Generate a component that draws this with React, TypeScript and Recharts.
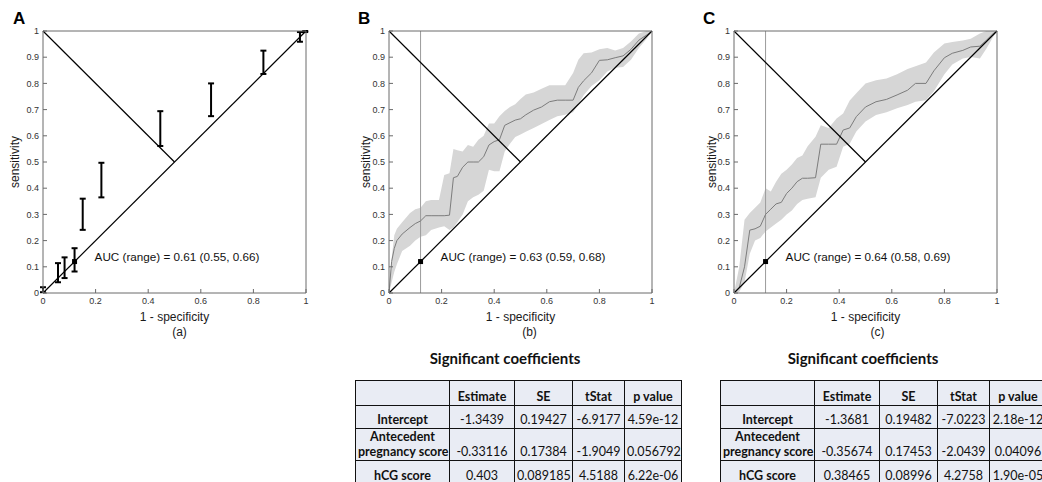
import React from 'react';
import {
  ComposedChart, XAxis, YAxis, Area, Line, Scatter, ErrorBar, ReferenceLine, ReferenceDot,
} from 'recharts';

const xTicks = [0, 0.2, 0.4, 0.6, 0.8, 1];
const yTicks = [0, 0.1, 0.2, 0.3, 0.4, 0.5, 0.6, 0.7, 0.8, 0.9, 1];

// Panel A: error bars (x, lower, upper)
const aX = [0, 0.057, 0.082, 0.12, 0.151, 0.222, 0.446, 0.639, 0.838, 0.977, 0.997];
const aLow = [0.003, 0.041, 0.057, 0.082, 0.241, 0.365, 0.561, 0.675, 0.836, 0.959, 0.996];
const aHigh = [0.022, 0.114, 0.136, 0.171, 0.36, 0.497, 0.694, 0.8, 0.925, 0.996, 1.0];

// Panel B: mean ROC and band
const bX = [0, 0.01, 0.02, 0.03, 0.05, 0.08, 0.1, 0.12, 0.14, 0.16, 0.19, 0.21, 0.23, 0.245, 0.26, 0.28, 0.3, 0.32, 0.34, 0.36, 0.38, 0.4, 0.42, 0.44, 0.46, 0.48, 0.5, 0.52, 0.55, 0.58, 0.61, 0.64, 0.67, 0.7, 0.72, 0.74, 0.77, 0.8, 0.83, 0.86, 0.89, 0.92, 0.95, 0.98, 1.0];
const bLow = [0, 0.04, 0.08, 0.11, 0.16, 0.18, 0.2, 0.215, 0.22, 0.24, 0.25, 0.255, 0.24, 0.25, 0.27, 0.3, 0.35, 0.365, 0.375, 0.39, 0.47, 0.465, 0.465, 0.54, 0.57, 0.595, 0.605, 0.615, 0.63, 0.645, 0.66, 0.675, 0.68, 0.69, 0.72, 0.755, 0.79, 0.812, 0.845, 0.86, 0.863, 0.89, 0.935, 0.97, 1];
const bMean = [0, 0.12, 0.17, 0.2, 0.225, 0.25, 0.265, 0.275, 0.295, 0.295, 0.295, 0.295, 0.297, 0.44, 0.445, 0.48, 0.5, 0.5, 0.5, 0.52, 0.565, 0.578, 0.585, 0.64, 0.65, 0.66, 0.665, 0.68, 0.698, 0.71, 0.73, 0.736, 0.736, 0.736, 0.785, 0.81, 0.84, 0.888, 0.89, 0.898, 0.905, 0.93, 0.965, 0.985, 1];
const bHigh = [0.02, 0.13, 0.22, 0.245, 0.27, 0.305, 0.32, 0.325, 0.35, 0.355, 0.355, 0.45, 0.457, 0.55, 0.545, 0.54, 0.565, 0.558, 0.585, 0.6, 0.647, 0.647, 0.675, 0.695, 0.71, 0.72, 0.74, 0.758, 0.765, 0.78, 0.793, 0.793, 0.793, 0.84, 0.89, 0.915, 0.918, 0.93, 0.935, 0.926, 0.935, 0.96, 0.99, 1.0, 1];

// Panel C: mean ROC and band
const cX = [0, 0.02, 0.04, 0.06, 0.08, 0.1, 0.12, 0.14, 0.16, 0.18, 0.2, 0.22, 0.24, 0.26, 0.28, 0.31, 0.33, 0.36, 0.39, 0.415, 0.44, 0.465, 0.5, 0.54, 0.58, 0.62, 0.66, 0.69, 0.73, 0.76, 0.8, 0.83, 0.87, 0.9, 0.935, 0.96, 0.985, 1];
const cLow = [0, 0.005, 0.04, 0.15, 0.2, 0.21, 0.235, 0.25, 0.265, 0.28, 0.3, 0.315, 0.34, 0.355, 0.36, 0.365, 0.44, 0.47, 0.482, 0.558, 0.57, 0.616, 0.655, 0.679, 0.69, 0.705, 0.718, 0.73, 0.736, 0.77, 0.835, 0.872, 0.895, 0.901, 0.895, 0.933, 0.977, 1];
const cMean = [0, 0.02, 0.1, 0.24, 0.245, 0.255, 0.3, 0.32, 0.34, 0.346, 0.38, 0.4, 0.425, 0.438, 0.438, 0.44, 0.568, 0.568, 0.568, 0.622, 0.63, 0.673, 0.71, 0.73, 0.739, 0.756, 0.774, 0.8, 0.8, 0.848, 0.898, 0.915, 0.926, 0.939, 0.942, 0.965, 0.99, 1];
const cHigh = [0, 0.1, 0.28, 0.305, 0.325, 0.345, 0.4, 0.387, 0.425, 0.455, 0.47, 0.49, 0.515, 0.525, 0.56, 0.596, 0.64, 0.63, 0.666, 0.685, 0.735, 0.762, 0.8, 0.812, 0.819, 0.835, 0.855, 0.865, 0.88, 0.918, 0.952, 0.958, 0.964, 0.97, 0.99, 1.0, 1.0, 1];

const cutPoint = { x: 0.12, y: 0.12 };

const aucTexts = ['AUC (range) = 0.61 (0.55, 0.66)', 'AUC (range) = 0.63 (0.59, 0.68)', 'AUC (range) = 0.64 (0.58, 0.69)'];
const panelLetters = ['A', 'B', 'C'];
const captions = ['(a)', '(b)', '(c)'];

// Tables
const tableTitle = 'Significant coefficients';
const colHeaders = ['Estimate', 'SE', 'tStat', 'p value'];
const rowLabels = [['Intercept'], ['Antecedent', 'pregnancy score'], ['hCG score']];
const tableBValues = [
  ['-1.3439', '0.19427', '-6.9177', '4.59e-12'],
  ['-0.33116', '0.17384', '-1.9049', '0.056792'],
  ['0.403', '0.089185', '4.5188', '6.22e-06'],
];
const tableCValues = [
  ['-1.3681', '0.19482', '-7.0223', '2.18e-12'],
  ['-0.35674', '0.17453', '-2.0439', '0.04096'],
  ['0.38465', '0.08996', '4.2758', '1.90e-05'],
];

const SANS = 'Liberation Sans, Arial, Helvetica, sans-serif';
const CAL = 'Lato, "Open Sans", sans-serif';
const AXIS = '#6a6a6a';

const buildBand = (xs: number[], lo: number[], mid: number[], hi: number[]) =>
  xs.map((x, i) => ({ x, band: [lo[i], hi[i]], mean: mid[i] }));

const buildErr = (xs: number[], lo: number[], hi: number[]) =>
  xs.map((x, i) => {
    const mid = (lo[i] + hi[i]) / 2;
    return { x, mid, err: [mid - lo[i], hi[i] - mid] };
  });

const YLab = (props: any) => {
  const { viewBox, off } = props;
  const x = viewBox.x + off;
  const y = viewBox.y + viewBox.height / 2;
  return (
    <text x={x} y={y} transform={`rotate(-90, ${x}, ${y})`} textAnchor="middle" dominantBaseline="central"
      style={{ fontFamily: SANS }} fontSize={12} fill="#1a1a1a">sensitivity</text>
  );
};

const XLab = (props: any) => {
  const { viewBox, capDx, caption } = props;
  const cx = viewBox.x + viewBox.width / 2;
  const y0 = viewBox.y;
  return (
    <g>
      <text x={cx} y={y0 + 24} textAnchor="middle" dominantBaseline="central" style={{ fontFamily: SANS }} fontSize={12} fill="#1a1a1a">1 - specificity</text>
      <text x={cx + capDx} y={y0 + 39} textAnchor="middle" dominantBaseline="central" style={{ fontFamily: SANS }} fontSize={12} fill="#1a1a1a">{caption}</text>
    </g>
  );
};

const AucLabel = (props: any) => {
  const { viewBox, text } = props;
  return (
    <text x={viewBox.x} y={viewBox.y + viewBox.height / 2} dominantBaseline="central" style={{ fontFamily: SANS }} fontSize={11.7} fill="#111">{text}</text>
  );
};

const Square = (p: any) => <rect x={p.cx - 2.5} y={p.cy - 2.5} width={5} height={5} fill="#000" />;
const Empty = () => <g />;

type PanelProps = {
  left: number; idx: number; band?: any[]; err?: any[]; yOff: number; capDx: number;
};

function Panel({ left, idx, band, err, yOff, capDx }: PanelProps) {
  const tickStyle = { fontSize: 9, fontFamily: SANS, fill: '#333' };
  return (
    <div style={{ position: 'absolute', left, top: 0, fontFamily: SANS }}>
      <ComposedChart width={330} height={346} data={band || []} margin={{ top: 30, right: 23, left: 0, bottom: 0 }}>
        <XAxis dataKey="x" type="number" domain={[0, 1]} ticks={xTicks} interval={0} allowDataOverflow
          tickSize={-4} tickMargin={9} height={53} stroke={AXIS} tick={tickStyle}
          label={<XLab capDx={capDx} caption={captions[idx]} />} />
        <XAxis xAxisId="top" orientation="top" dataKey="x" type="number" domain={[0, 1]} ticks={xTicks} interval={0}
          allowDataOverflow tickSize={-4} height={1} tick={false} stroke={AXIS} />
        <YAxis type="number" domain={[0, 1]} ticks={yTicks} interval={0} allowDataOverflow tickSize={-4}
          tickMargin={8} width={43} stroke={AXIS} tick={tickStyle} label={<YLab off={yOff} />} />
        <YAxis yAxisId="right" orientation="right" type="number" domain={[0, 1]} ticks={yTicks} interval={0}
          allowDataOverflow tickSize={-4} width={1} tick={false} stroke={AXIS} />
        {band && (
          <Area type="linear" dataKey="band" stroke="none" fill="#d6d6d6" fillOpacity={1} isAnimationActive={false} activeDot={false} />
        )}
        {band && <ReferenceLine x={cutPoint.x} stroke="#9c9c9c" strokeWidth={1} />}
        {band && (
          <Line type="linear" dataKey="mean" stroke="#7c7c7c" strokeWidth={1} dot={false} activeDot={false} isAnimationActive={false} />
        )}
        <ReferenceLine segment={[{ x: 0, y: 0 }, { x: 1, y: 1 }]} stroke="#000" strokeWidth={1.2} />
        <ReferenceLine segment={[{ x: 0, y: 1 }, { x: 0.5, y: 0.5 }]} stroke="#000" strokeWidth={1.2} />
        {err && (
          <Scatter data={err} dataKey="mid" shape={Empty} isAnimationActive={false}>
            <ErrorBar dataKey="err" direction="y" width={3} stroke="#000" strokeWidth={2} />
          </Scatter>
        )}
        <Scatter data={[cutPoint]} dataKey="y" shape={Square} isAnimationActive={false} />
        <Scatter xAxisId="top" yAxisId="right" data={[cutPoint]} dataKey="y" shape={Empty} isAnimationActive={false} />
        <ReferenceDot x={0.2} y={0.138} r={1} fillOpacity={0} strokeOpacity={0}
          label={<AucLabel text={aucTexts[idx]} />} />
      </ComposedChart>
      <div style={{ position: 'absolute', left: [13, 12, 12][idx], top: 9, fontFamily: SANS, fontWeight: 700, fontSize: 17, lineHeight: '20px', color: '#000' }}>
        {panelLetters[idx]}
      </div>
    </div>
  );
}

const colWidths = [94, 65, 58, 52, 57];
const rowHeights = [25, 23, 31, 24];

function CoefTable({ left, titleCx, values }: { left: number; titleCx: number; values: string[][] }) {
  const border = '1.5px solid #111';
  const cell: React.CSSProperties = {
    border, padding: '0 2px 1px 2px', verticalAlign: 'bottom', textAlign: 'center', lineHeight: '15px',
    whiteSpace: 'nowrap', overflow: 'hidden', background: '#e9ecf4', color: '#111',
  };
  return (
    <>
      <div style={{ position: 'absolute', left: titleCx - 120, width: 240, top: 349, textAlign: 'center', fontFamily: CAL, fontWeight: 700, fontSize: 15, color: '#111' }}>
        {tableTitle}
      </div>
      <table style={{ position: 'absolute', left, top: 380, borderCollapse: 'collapse', tableLayout: 'fixed', fontFamily: CAL, fontSize: 12.5, width: colWidths.reduce((a, b) => a + b, 0) }}>
        <colgroup>
          {colWidths.map((w, i) => <col key={i} style={{ width: w }} />)}
        </colgroup>
        <tbody>
          <tr style={{ height: rowHeights[0] }}>
            <td style={cell}></td>
            {colHeaders.map((h) => <td key={h} style={{ ...cell, fontWeight: 700 }}>{h}</td>)}
          </tr>
          {rowLabels.map((lab, r) => (
            <tr key={r} style={{ height: rowHeights[r + 1] }}>
              <td style={{ ...cell, fontWeight: 700 }}>
                {lab.map((l, k) => <div key={k}>{l}</div>)}
              </td>
              {values[r].map((v, c) => <td key={c} style={cell}>{v}</td>)}
            </tr>
          ))}
        </tbody>
      </table>
    </>
  );
}

export default function App() {
  const bandB = buildBand(bX, bLow, bMean, bHigh);
  const bandC = buildBand(cX, cLow, cMean, cHigh);
  const errA = buildErr(aX, aLow, aHigh);
  return (
    <div style={{ position: 'absolute', left: 0, top: 0, width: 1042, height: 482, overflow: 'hidden', background: '#fff' }}>
      <Panel left={0} idx={0} err={errA} yOff={15} capDx={5} />
      <Panel left={346} idx={1} band={bandB} yOff={19.5} capDx={9} />
      <Panel left={691} idx={2} band={bandC} yOff={21} capDx={12} />
      <CoefTable left={355} titleCx={505} values={tableBValues} />
      <CoefTable left={720} titleCx={863} values={tableCValues} />
    </div>
  );
}
